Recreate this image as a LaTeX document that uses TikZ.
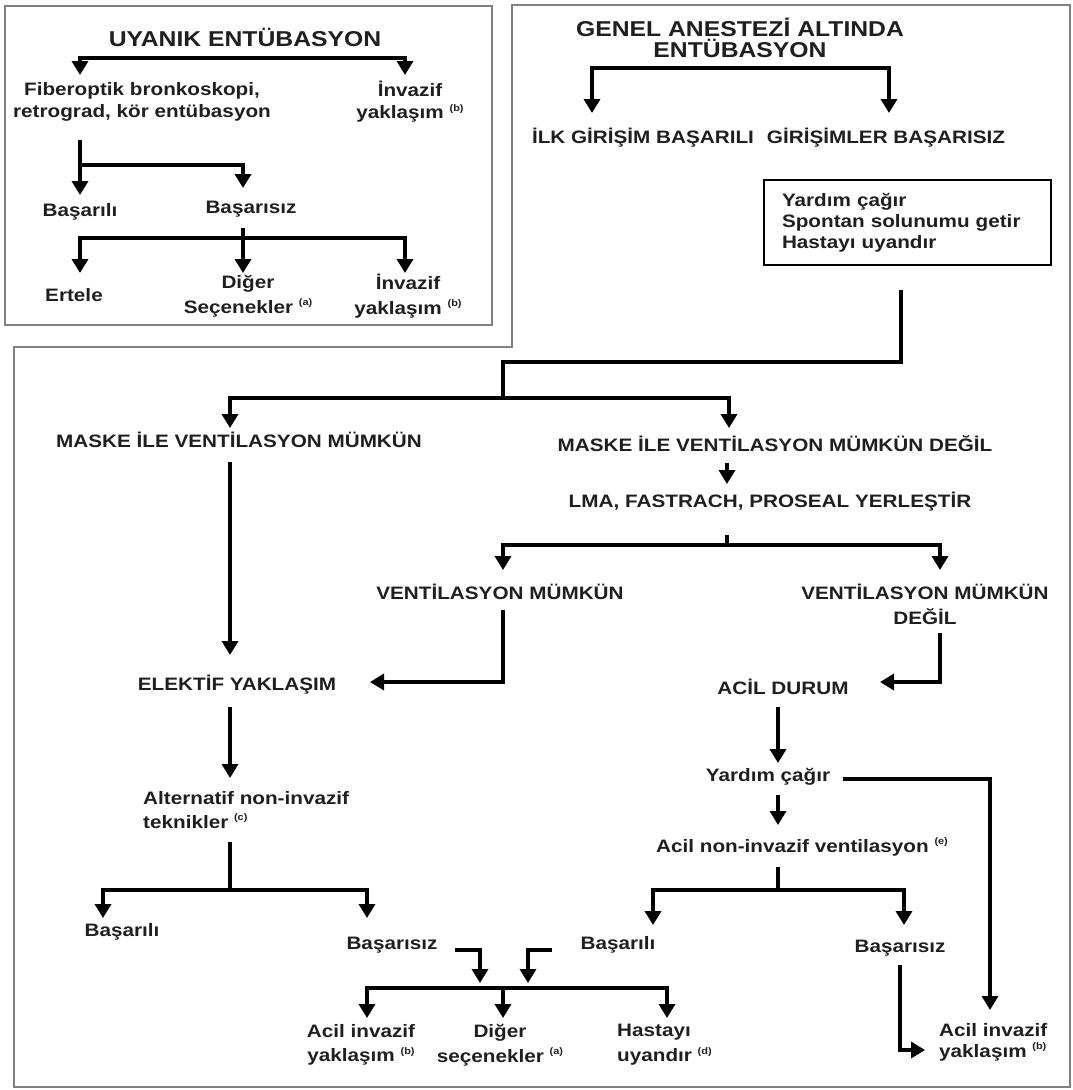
\documentclass[tikz,border=0pt]{standalone}
\usepackage{fontspec}
\setmainfont{Liberation Sans}[FakeStretch=1.15]
\usetikzlibrary{arrows.meta}
\newcommand\myfn[1]{\raisebox{0.42em}{\fontsize{9.5}{9.5}\selectfont(#1)}}
\begin{document}
\begin{tikzpicture}[x=1pt,y=-1pt,
  txt/.style={inner sep=0pt, align=center, text=black!88, font=\fontsize{18}{23}\selectfont\bfseries},
  txtw/.style={txt, font=\fontsize{18}{25}\selectfont\bfseries},
  txtn/.style={txt, font=\fontsize{18}{22}\selectfont\bfseries},
  ttl/.style={inner sep=0pt, align=center, text=black!88, font=\fontsize{21.5}{21}\selectfont\bfseries},
  frame/.style={draw=black!50, line width=2pt},
  ln/.style={draw=black, line width=3.8pt},
  arr/.style={ln, -{Triangle[width=16pt,length=14pt]}},
]
\useasboundingbox (0,0) rectangle (1073,1090);
% frames
\draw[frame] (5,6) rectangle (492,325);
\draw[frame] (512,347) -- (512,5) -- (1070,5) -- (1070,1087) -- (14,1087) -- (14,347) -- cycle;

% ---------- top-left box ----------
\node[ttl] (t1) at (245,37) {UYANIK ENTÜBASYON};
\node[txtn] (fib) at (142,102) {Fiberoptik bronkoskopi,\\retrograd, kör entübasyon};
\node[txtn] (inv1) at (410,102) {İnvazif\\yaklaşım \myfn{b}};
\node[txt] (bas1) at (80,212) {Başarılı};
\node[txt] (bsz1) at (251,209) {Başarısız};
\node[txt] (ert) at (74,295) {Ertele};
\node[txtw] (dig1) at (248,296) {Diğer\\Seçenekler \myfn{a}};
\node[txtw] (inv2) at (408,296) {İnvazif\\yaklaşım \myfn{b}};

\coordinate (j1) at (245,58);
\coordinate (a1) at (80,75);
\coordinate (a2) at (405,75);
\coordinate (s1) at (80,140);
\coordinate (a3) at (80,195);
\coordinate (j2) at (80,165);
\coordinate (a4) at (243,188);
\coordinate (s2) at (243,228);
\coordinate (j3) at (243,238);
\coordinate (a5) at (80,273);
\coordinate (a6) at (243,273);
\coordinate (a7) at (405,273);
\draw[arr] (j1) -| (a1);
\draw[arr] (j1) -| (a2);
\draw[arr] (s1) -- (a3);
\draw[arr] (j2) -| (a4);
\draw[arr] (s2) -- (a6);
\draw[arr] (j3) -| (a5);
\draw[arr] (j3) -| (a7);

% ---------- right top ----------
\node[ttl] (gen) at (740,38) {GENEL ANESTEZİ ALTINDA\\ENTÜBASYON};
\node[txt] (ilk) at (643,138) {İLK GİRİŞİM BAŞARILI};
\node[txt] (gir) at (886,138) {GİRİŞİMLER BAŞARISIZ};
\node[draw=black, line width=2.5pt, align=left, text width=251pt, inner xsep=18pt, inner ysep=0pt,
      minimum height=85pt, text=black!88, font=\fontsize{18}{21}\selectfont\bfseries]
      (yb) at (907.5,222.5) {Yardım çağır\\Spontan solunumu getir\\Hastayı uyandır};

\coordinate (j4) at (740,68);
\coordinate (a8) at (592,113);
\coordinate (a9) at (889,113);
\draw[arr] (j4) -| (a8);
\draw[arr] (j4) -| (a9);

% ---------- lower part ----------
\node[txt] (mm) at (239,440) {MASKE İLE VENTİLASYON MÜMKÜN};
\node[txt] (md) at (775,444) {MASKE İLE VENTİLASYON MÜMKÜN DEĞİL};
\node[txt] (lma) at (770,502) {LMA, FASTRACH, PROSEAL YERLEŞTİR};
\node[txt] (vm) at (500,592) {VENTİLASYON MÜMKÜN};
\node[txtw] (vmd) at (925,604) {VENTİLASYON MÜMKÜN\\DEĞİL};
\node[txt] (ele) at (237,685) {ELEKTİF YAKLAŞIM};
\node[txt] (acd) at (783,687) {ACİL DURUM};
\node[txt, align=left, anchor=west, font=\fontsize{18}{24}\selectfont\bfseries] (alt) at (143,810) {Alternatif non-invazif\\teknikler \myfn{c}};
\node[txt] (bas2) at (122,932) {Başarılı};
\node[txt] (bsz2) at (392,945) {Başarısız};
\node[txt] (yc) at (768,777) {Yardım çağır};
\node[txt] (anv) at (802,847) {Acil non-invazif ventilasyon \myfn{e}};
\node[txt] (bas3) at (618,945) {Başarılı};
\node[txt] (bsz3) at (900,948) {Başarısız};
\node[txt, font=\fontsize{18}{24}\selectfont\bfseries] (aia) at (361,1045) {Acil invazif\\yaklaşım \myfn{b}};
\node[txtw] (dig2) at (500,1045) {Diğer\\seçenekler \myfn{a}};
\node[txtw, align=left, anchor=west] (hst) at (617,1045) {Hastayı\\uyandır \myfn{d}};
\node[txt, align=left, anchor=west, font=\fontsize{18}{21}\selectfont\bfseries] (aib) at (939,1042) {Acil invazif\\yaklaşım \myfn{b}};

\coordinate (s3) at (901,290);
\coordinate (k1) at (901,362);
\coordinate (k2) at (503,362);
\coordinate (j5) at (503,398);
\coordinate (a10) at (230,428);
\coordinate (a11) at (729,428);
\draw[ln] (s3) -- (k1) -- (k2) -- (j5);
\draw[arr] (j5) -| (a10);
\draw[arr] (j5) -| (a11);

\coordinate (s4) at (727,463);
\coordinate (a12) at (727,484);
\draw[arr] (s4) -- (a12);

\coordinate (s5) at (727,535);
\coordinate (j6) at (727,545);
\coordinate (a13) at (503,570);
\coordinate (a14) at (940,570);
\draw[ln] (s5) -- (j6);
\draw[arr] (j6) -| (a13);
\draw[arr] (j6) -| (a14);

\coordinate (s6) at (503,610);
\coordinate (a15) at (370,682);
\draw[arr] (s6) |- (a15);
\coordinate (s7) at (230,462);
\coordinate (a16) at (230,655);
\draw[arr] (s7) -- (a16);
\coordinate (s8) at (940,633);
\coordinate (a17) at (880,682);
\draw[arr] (s8) |- (a17);

\coordinate (s9) at (230,707);
\coordinate (a18) at (230,778);
\draw[arr] (s9) -- (a18);
\coordinate (s10) at (230,842);
\coordinate (j7) at (230,890);
\coordinate (a19) at (103,918);
\coordinate (a20) at (367,918);
\draw[ln] (s10) -- (j7);
\draw[arr] (j7) -| (a19);
\draw[arr] (j7) -| (a20);

\coordinate (s11) at (455,950);
\coordinate (a21) at (480,983);
\draw[arr] (s11) -| (a21);
\coordinate (s16) at (552,950);
\coordinate (a27) at (528,983);
\draw[arr] (s16) -| (a27);

\coordinate (j9) at (503,988);
\coordinate (a28) at (367,1018);
\coordinate (a29) at (503,1018);
\coordinate (a30) at (667,1018);
\draw[arr] (j9) -| (a28);
\draw[arr] (j9) -- (a29);
\draw[arr] (j9) -| (a30);

\coordinate (s12) at (778,707);
\coordinate (a22) at (778,763);
\draw[arr] (s12) -- (a22);
\coordinate (s13) at (778,795);
\coordinate (a23) at (778,825);
\draw[arr] (s13) -- (a23);
\coordinate (s14) at (843,779);
\coordinate (a24) at (990,1010);
\draw[arr] (s14) -| (a24);

\coordinate (s15) at (778,867);
\coordinate (j8) at (778,890);
\coordinate (a25) at (653,925);
\coordinate (a26) at (904,925);
\draw[ln] (s15) -- (j8);
\draw[arr] (j8) -| (a25);
\draw[arr] (j8) -| (a26);

\coordinate (s17) at (900,965);
\coordinate (a31) at (925,1050);
\draw[arr] (s17) |- (a31);
\end{tikzpicture}
\end{document}
